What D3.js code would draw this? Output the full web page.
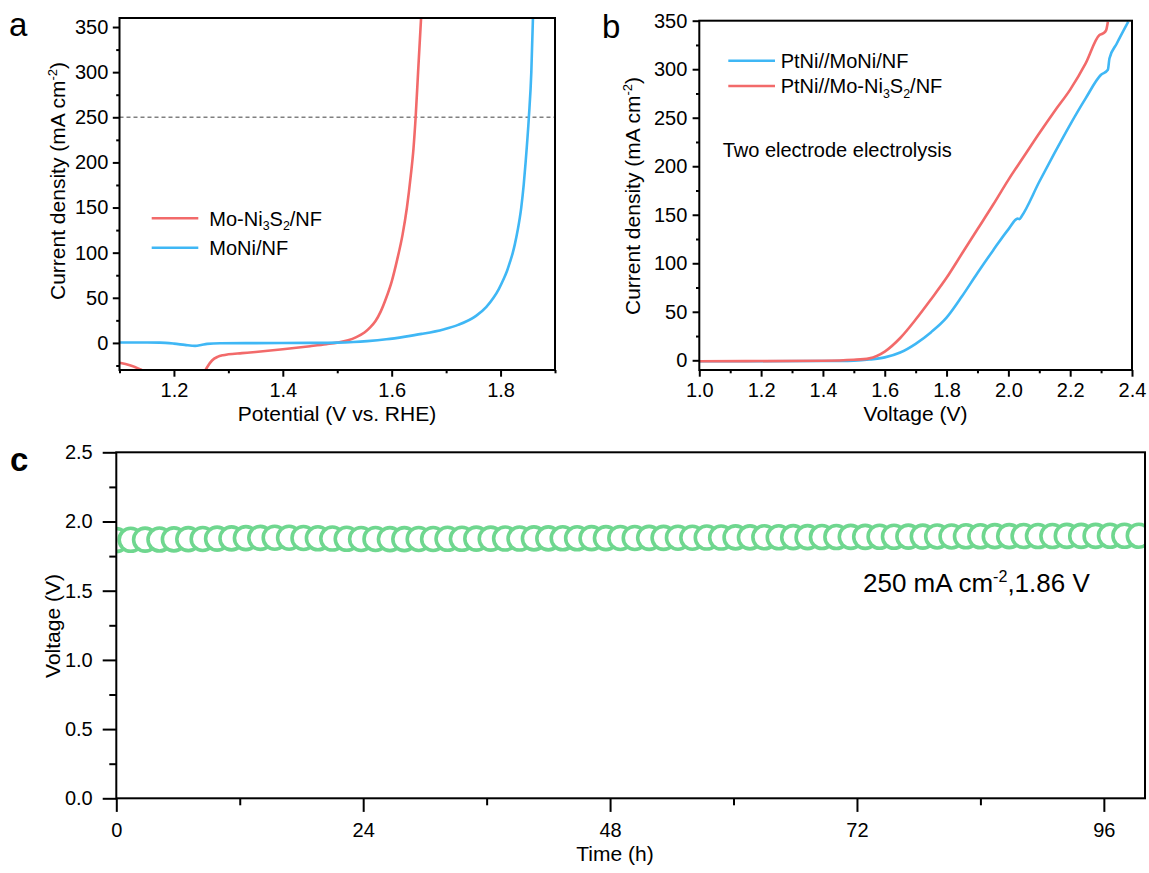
<!DOCTYPE html>
<html>
<head>
<meta charset="utf-8">
<script src="https://cdn.jsdelivr.net/npm/d3@7"></script>
<style>
  body { margin: 0; background: #fff; }
  svg { display: block; font-family: "Liberation Sans", Arial, sans-serif; }
</style>
</head>
<body>
<div id="chart"></div>
<script>
// ---- panel a: polarization curves (potential V vs RHE, mA cm-2)
var aRedSeg1X = [1.100, 1.119, 1.141];
var aRedSeg1Y = [-22, -24.8, -30];
var aRedSeg2X = [1.258, 1.263, 1.270, 1.280, 1.290, 1.300, 1.325, 1.350, 1.400, 1.450, 1.480, 1.500, 1.520, 1.535, 1.550, 1.560, 1.570, 1.580, 1.590, 1.600, 1.610, 1.620, 1.628, 1.635, 1.640, 1.644, 1.6485, 1.654];
var aRedSeg2Y = [-30, -25, -19.5, -15.5, -13.6, -12.6, -11.3, -10, -7, -3.6, -1.4, 0.3, 3, 6.5, 11.5, 17, 24, 35, 50, 68, 92, 120, 150, 185, 215, 250, 300, 360];
var aBlueX = [1.100, 1.150, 1.174, 1.200, 1.220, 1.239, 1.250, 1.261, 1.285, 1.350, 1.450, 1.500, 1.530, 1.555, 1.590, 1.625, 1.655, 1.695, 1.722, 1.755, 1.774, 1.787, 1.797, 1.805, 1.812, 1.8175, 1.8225, 1.8265, 1.8315, 1.838, 1.8425, 1.846, 1.852, 1.8565, 1.8595];
var aBlueY = [0.4, 0.4, 0.3, -0.8, -2.2, -3.3, -2.4, -1.1, -0.4, -0.2, 0, 0.3, 1, 2, 4, 7, 10, 15, 20, 30, 40, 50, 60, 70, 80, 90, 100, 110, 125, 150, 175, 200, 250, 300, 360];
var aRefLine = 250;

// ---- panel b: two electrode electrolysis
var bBlueX = [1.0, 1.2, 1.4, 1.5, 1.55, 1.6, 1.65, 1.7, 1.75, 1.8, 1.85, 1.9, 1.95, 2.0, 2.03, 2.036, 2.043, 2.1, 2.15, 2.2, 2.25, 2.299, 2.322, 2.327, 2.35, 2.388];
var bBlueY = [-1, -1, -0.8, -0.3, 0.8, 3, 8, 17, 29, 44, 66, 90, 113, 135, 146, 145.5, 148.5, 184, 214, 243, 270, 294, 299.4, 311, 326, 349];
var bRedX = [1.0, 1.4, 1.5, 1.55, 1.6, 1.65, 1.7, 1.75, 1.8, 1.85, 1.9, 1.95, 2.0, 2.05, 2.1, 2.15, 2.2, 2.25, 2.294, 2.307, 2.316, 2.322];
var bRedY = [-1, -0.5, 0.5, 2, 9, 23, 42, 63, 85, 110, 135, 160, 186, 210, 234, 257, 279, 306, 335, 337, 340, 349];

// ---- panel c: stability at 250 mA cm-2
var cTime = [0, 1.4, 2.8, 4.2, 5.6, 7.0, 8.4, 9.8,
  11.2, 12.6, 14.0, 15.4, 16.8, 18.2, 19.6,
  21.0, 22.4, 23.8, 25.2, 26.6, 28.0, 29.4,
  30.8, 32.2, 33.6, 35.0, 36.4, 37.8, 39.2,
  40.6, 42.0, 43.4, 44.8, 46.2, 47.6, 49.0,
  50.4, 51.8, 53.2, 54.6, 56.0, 57.4, 58.8,
  60.2, 61.6, 63.0, 64.4, 65.8, 67.2, 68.6,
  70.0, 71.4, 72.8, 74.2, 75.6, 77.0, 78.4,
  79.8, 81.2, 82.6, 84.0, 85.4, 86.8, 88.2,
  89.6, 91.0, 92.4, 93.8, 95.2, 96.6, 98.0, 99.4];
var cVolt = [1.866, 1.868, 1.869, 1.870, 1.871, 1.873, 1.874, 1.876,
  1.878, 1.880, 1.882, 1.883, 1.883, 1.881, 1.879,
  1.877, 1.875, 1.874, 1.874, 1.873, 1.873, 1.874,
  1.874, 1.875, 1.875, 1.876, 1.876, 1.877, 1.877,
  1.878, 1.878, 1.879, 1.879, 1.880, 1.880, 1.881,
  1.881, 1.882, 1.882, 1.883, 1.883, 1.884, 1.884,
  1.885, 1.885, 1.886, 1.886, 1.887, 1.887, 1.888,
  1.888, 1.889, 1.889, 1.890, 1.890, 1.891, 1.891,
  1.892, 1.892, 1.893, 1.893, 1.894, 1.894, 1.895,
  1.895, 1.895, 1.896, 1.896, 1.896, 1.897, 1.897, 1.897];

var RED = "#f26a6a", BLUE = "#3fb7f5", GREEN = "#6fd78f";
var FONT = 20;

var svg = d3.select("#chart").append("svg")
    .attr("width", 1149)
    .attr("height", 873);

function zip(xs, ys) {
    return xs.map(function (x, i) { return [x, ys[i]]; });
}

// frame + major/minor ticks for one panel
function drawFrame(box, x, y, opt) {
    var g = svg.append("g");
    var xa = g.append("g").attr("transform", "translate(0," + box.bottom + ")");
    xa.call(d3.axisBottom(x).tickValues(opt.xMinor).tickSize(opt.minorLen).tickFormat(""));
    xa.append("g").call(d3.axisBottom(x).tickValues(opt.xMajor).tickSize(opt.majorLen)
        .tickPadding(opt.xPad).tickFormat(opt.xFmt));
    var ya = g.append("g").attr("transform", "translate(" + box.left + ",0)");
    ya.call(d3.axisLeft(y).tickValues(opt.yMinor).tickSize(opt.minorLen).tickFormat(""));
    ya.append("g").call(d3.axisLeft(y).tickValues(opt.yMajor).tickSize(opt.majorLen)
        .tickPadding(opt.yPad).tickFormat(opt.yFmt));
    g.selectAll(".domain").remove();
    g.selectAll(".tick line").attr("stroke", "#000").attr("stroke-width", 2);
    g.selectAll(".tick text").attr("fill", "#000").style("font-size", FONT + "px")
        .style("font-family", "\"Liberation Sans\", Arial, sans-serif");
    g.append("rect")
        .attr("x", box.left).attr("y", box.top)
        .attr("width", box.right - box.left).attr("height", box.bottom - box.top)
        .attr("fill", "none").attr("stroke", "#000").attr("stroke-width", 2);
}

function clipFor(id, box) {
    svg.append("clipPath").attr("id", id).append("rect")
        .attr("x", box.left).attr("y", box.top)
        .attr("width", box.right - box.left).attr("height", box.bottom - box.top);
    return "url(#" + id + ")";
}

// text with sub/superscripts, shifts in px of the parent size
function addParts(t, parts, fs) {
    var off = 0;
    parts.forEach(function (p) {
        var s = t.append("tspan");
        var target = 0;
        if (p.sup) { target = -fs * 0.38; s.style("font-size", (fs * 0.62) + "px").text(p.sup); }
        else if (p.sub) { target = fs * 0.22; s.style("font-size", (fs * 0.62) + "px").text(p.sub); }
        else s.text(p.t);
        if (target - off !== 0) s.attr("dy", target - off);
        off = target;
    });
}

function yTitle(cx, cy, parts) {
    var t = svg.append("text")
        .attr("transform", "translate(" + cx + "," + cy + ") rotate(-90)")
        .attr("text-anchor", "middle")
        .style("font-size", "21px");
    addParts(t, parts, 21);
}

// ================= panel a =================
var boxA = {left: 119.5, right: 555, top: 18, bottom: 370};
var xA = d3.scaleLinear().domain([1.1, 1.9]).range([boxA.left, boxA.right]);
var yA = d3.scaleLinear().domain([-30, 360]).range([boxA.bottom, boxA.top]);
var lineA = d3.line().x(function (d) { return xA(d[0]); }).y(function (d) { return yA(d[1]); })
    .curve(d3.curveMonotoneX);
var clipA = clipFor("clipA", boxA);

svg.append("line")
    .attr("x1", boxA.left).attr("x2", boxA.right)
    .attr("y1", yA(aRefLine)).attr("y2", yA(aRefLine))
    .attr("stroke", "#808080").attr("stroke-width", 1.6).attr("stroke-dasharray", "4,3");

var gA = svg.append("g").attr("clip-path", clipA);
[zip(aRedSeg1X, aRedSeg1Y), zip(aRedSeg2X, aRedSeg2Y)].forEach(function (seg) {
    gA.append("path").attr("d", lineA(seg)).attr("fill", "none")
        .attr("stroke", RED).attr("stroke-width", 2.6);
});
gA.append("path").attr("d", lineA(zip(aBlueX, aBlueY))).attr("fill", "none")
    .attr("stroke", BLUE).attr("stroke-width", 2.6);

drawFrame(boxA, xA, yA, {
    xMajor: [1.2, 1.4, 1.6, 1.8], xMinor: [1.1, 1.3, 1.5, 1.7, 1.9],
    yMajor: [0, 50, 100, 150, 200, 250, 300, 350], yMinor: [-25, 25, 75, 125, 175, 225, 275, 325],
    majorLen: 6.7, minorLen: 3.3, xPad: 6.3, yPad: 4.5,
    xFmt: d3.format(".1f"), yFmt: d3.format("d")
});

// legend a
var legA = [{c: RED, y: 218.3, parts: [{t: "Mo-Ni"}, {sub: "3"}, {t: "S"}, {sub: "2"}, {t: "/NF"}]},
            {c: BLUE, y: 247.7, parts: [{t: "MoNi/NF"}]}];
legA.forEach(function (l) {
    svg.append("line").attr("x1", 151.7).attr("x2", 198.3).attr("y1", l.y).attr("y2", l.y)
        .attr("stroke", l.c).attr("stroke-width", 2.6);
    var t = svg.append("text").attr("x", 209.3).attr("y", l.y + 7.4).style("font-size", FONT + "px");
    addParts(t, l.parts, FONT);
});

svg.append("text").attr("x", 337).attr("y", 421).attr("text-anchor", "middle")
    .style("font-size", "21px").text("Potential (V vs. RHE)");
yTitle(65, 181, [{t: "Current density (mA cm"}, {sup: "-2"}, {t: ")"}]);
svg.append("text").attr("x", 9).attr("y", 36).style("font-size", "33px").text("a");

// ================= panel b =================
var boxB = {left: 699.3, right: 1132, top: 20.7, bottom: 370};
var xB = d3.scaleLinear().domain([1.0, 2.4]).range([boxB.left, boxB.right]);
var yB = d3.scaleLinear().domain([-10, 350]).range([boxB.bottom, boxB.top]);
var lineB = d3.line().x(function (d) { return xB(d[0]); }).y(function (d) { return yB(d[1]); })
    .curve(d3.curveMonotoneX);
var gB = svg.append("g").attr("clip-path", clipFor("clipB", boxB));
gB.append("path").attr("d", lineB(zip(bBlueX, bBlueY))).attr("fill", "none")
    .attr("stroke", BLUE).attr("stroke-width", 2.6);
gB.append("path").attr("d", lineB(zip(bRedX, bRedY))).attr("fill", "none")
    .attr("stroke", RED).attr("stroke-width", 2.6);

drawFrame(boxB, xB, yB, {
    xMajor: [1.0, 1.2, 1.4, 1.6, 1.8, 2.0, 2.2, 2.4], xMinor: [1.1, 1.3, 1.5, 1.7, 1.9, 2.1, 2.3],
    yMajor: [0, 50, 100, 150, 200, 250, 300, 350], yMinor: [25, 75, 125, 175, 225, 275, 325],
    majorLen: 6.7, minorLen: 3.3, xPad: 6.3, yPad: 5.3,
    xFmt: d3.format(".1f"), yFmt: d3.format("d")
});

var legB = [{c: BLUE, y: 60.7, parts: [{t: "PtNi//MoNi/NF"}]},
            {c: RED, y: 86, parts: [{t: "PtNi//Mo-Ni"}, {sub: "3"}, {t: "S"}, {sub: "2"}, {t: "/NF"}]}];
legB.forEach(function (l) {
    svg.append("line").attr("x1", 728.3).attr("x2", 775).attr("y1", l.y).attr("y2", l.y)
        .attr("stroke", l.c).attr("stroke-width", 2.6);
    var t = svg.append("text").attr("x", 780.7).attr("y", l.y + 7.2).style("font-size", FONT + "px");
    addParts(t, l.parts, FONT);
});
svg.append("text").attr("x", 722.7).attr("y", 156.7).style("font-size", FONT + "px")
    .text("Two electrode electrolysis");

svg.append("text").attr("x", 915.5).attr("y", 421).attr("text-anchor", "middle")
    .style("font-size", "21px").text("Voltage (V)");
yTitle(640, 196, [{t: "Current density (mA cm"}, {sup: "-2"}, {t: ")"}]);
svg.append("text").attr("x", 602).attr("y", 38).style("font-size", "33px").text("b");

// ================= panel c =================
var boxC = {left: 116.3, right: 1145, top: 452.3, bottom: 798.3};
var xC = d3.scaleLinear().domain([0, 100]).range([boxC.left, boxC.right]);
var yC = d3.scaleLinear().domain([0, 2.5]).range([boxC.bottom, boxC.top]);
var gC = svg.append("g").attr("clip-path", clipFor("clipC", boxC));
gC.selectAll("circle").data(zip(cTime, cVolt)).enter().append("circle")
    .attr("cx", function (d) { return xC(d[0]); })
    .attr("cy", function (d) { return yC(d[1]); })
    .attr("r", 11.5)
    .attr("fill", "#fff")
    .attr("stroke", GREEN)
    .attr("stroke-width", 3.6);

drawFrame(boxC, xC, yC, {
    xMajor: [0, 24, 48, 72, 96], xMinor: [12, 36, 60, 84],
    yMajor: [0, 0.5, 1.0, 1.5, 2.0, 2.5], yMinor: [0.25, 0.75, 1.25, 1.75, 2.25],
    majorLen: 13.6, minorLen: 7, xPad: 11.4, yPad: 10,
    xFmt: d3.format("d"), yFmt: d3.format(".1f")
});

var note = svg.append("text").attr("x", 863).attr("y", 591.7).style("font-size", "26px");
addParts(note, [{t: "250 mA cm"}, {sup: "-2"}, {t: ",1.86 V"}], 26);

svg.append("text").attr("x", 615).attr("y", 861).attr("text-anchor", "middle")
    .style("font-size", "21px").text("Time (h)");
yTitle(60, 626, [{t: "Voltage (V)"}]);
svg.append("text").attr("x", 10).attr("y", 471).style("font-size", "33px")
    .style("font-weight", "bold").text("c");
</script>
</body>
</html>
